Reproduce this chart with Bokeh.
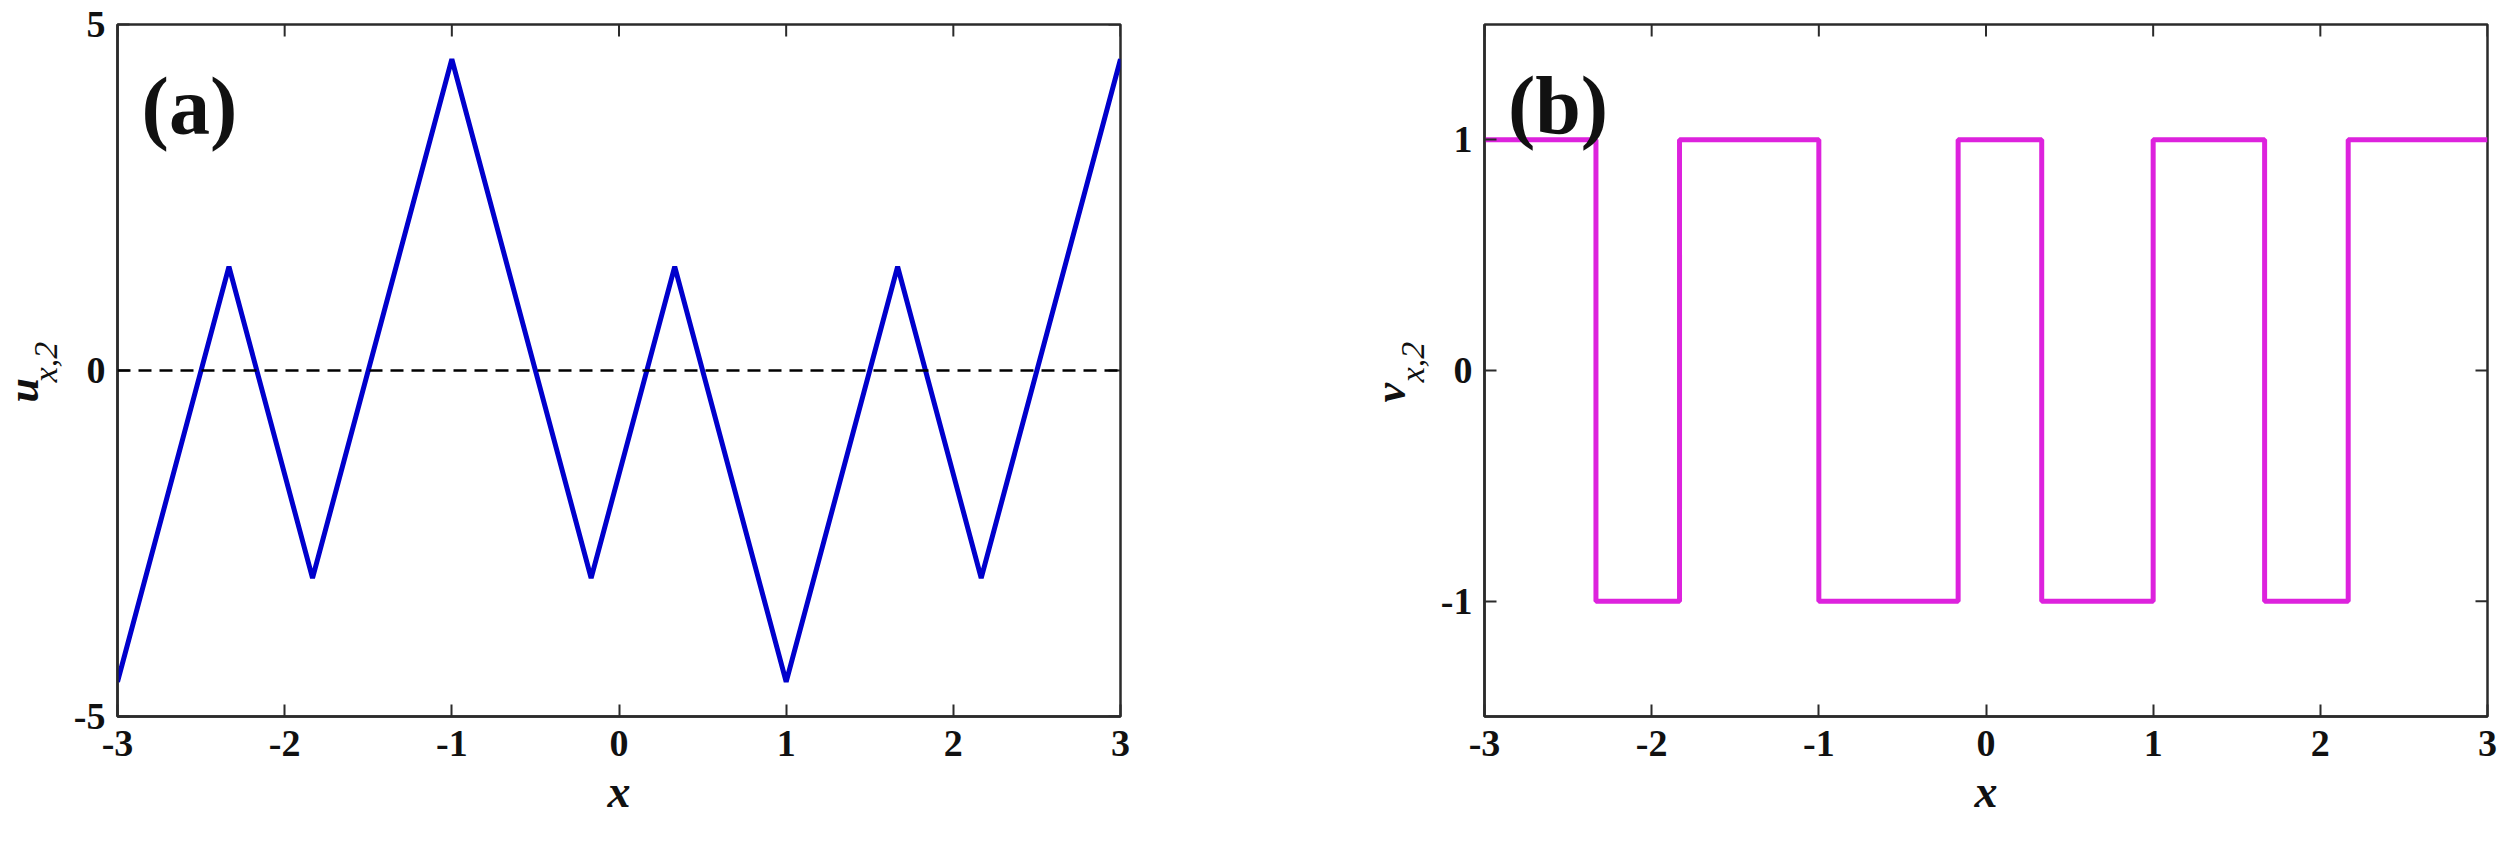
import math
from bokeh.plotting import figure
from bokeh.layouts import row
from bokeh.models import Title, FixedTicker, Range1d, Span, Label
from bokeh.embed import file_html
from bokeh.resources import INLINE

# ---------------- data ----------------
x_ticks = [-3, -2, -1, 0, 1, 2, 3]
x_lim = [-3, 3]
u_lim = [-5, 5]
v_lim = [-1.5, 1.5]
u_y_ticks = [-5, 0, 5]
v_y_ticks = [-1, 0, 1]

u_x = [-3.0, -2.3333, -1.8333, -1.0, -0.1667, 0.3333, 1.0, 1.6667, 2.1667, 3.0]
u_vals = [-4.5, 1.5, -3.0, 4.5, -3.0, 1.5, -4.5, 1.5, -3.0, 4.5]

v_x = [-3.0, -2.3333, -1.8333, -1.0, -0.1667, 0.3333, 1.0, 1.6667, 2.1667, 3.0]
v_vals = [1, -1, 1, -1, 1, -1, 1, -1, 1, 1]

FONT = "Liberation Serif"
AX_COL = "#2b2b2b"
TXT = "#111111"
FW, FH = 1003, 692


def style_axis(ax, ticks):
    ax.ticker = FixedTicker(ticks=ticks)
    ax.major_label_overrides = {t: str(t) for t in ticks}
    ax.axis_line_color = AX_COL
    ax.axis_line_width = 2.5
    ax.major_tick_line_color = AX_COL
    ax.major_tick_line_width = 2
    ax.major_tick_in = 12
    ax.major_tick_out = 0
    ax.minor_tick_line_color = None
    ax.major_label_text_font = FONT
    ax.major_label_text_font_style = "bold"
    ax.major_label_text_font_size = "38px"
    ax.major_label_text_color = TXT


def make_fig(ylim, yticks, bl, br, sym):
    p = figure(output_backend="svg", toolbar_location=None,
               frame_width=FW, frame_height=FH,
               x_range=Range1d(*x_lim), y_range=Range1d(*ylim),
               min_border_left=bl, min_border_right=br,
               min_border_top=24, min_border_bottom=117)
    p.grid.visible = False
    p.outline_line_color = AX_COL
    p.outline_line_width = 2.5
    p.background_fill_color = "white"
    p.border_fill_color = "white"

    xa = p.xaxis[0]
    ya = p.yaxis[0]
    style_axis(xa, x_ticks)
    style_axis(ya, yticks)
    xa.major_label_standoff = 14
    ya.major_label_standoff = 12

    xa.axis_label = "x"
    xa.axis_label_text_font = FONT
    xa.axis_label_text_font_style = "bold italic"
    xa.axis_label_text_font_size = "46px"
    xa.axis_label_text_color = TXT
    xa.axis_label_standoff = 7

    # subscript of the y label (closer to the axis)
    ya.axis_label = "\u00a0\u00a0x,2"
    ya.axis_label_text_font = FONT
    ya.axis_label_text_font_style = "italic"
    ya.axis_label_text_font_size = "34px"
    ya.axis_label_text_color = TXT
    ya.axis_label_standoff = 7

    # main symbol of the y label
    p.add_layout(Title(text=sym, align="left", offset=314,
                       vertical_align="bottom", standoff=-48,
                       text_font=FONT, text_font_style="bold italic",
                       text_font_size="44px", text_color=TXT), "left")

    # mirror ticks on top and right edges of the box
    p.ray(x=x_ticks, y=[ylim[1]] * len(x_ticks), length=12,
          length_units="screen", angle=-math.pi / 2,
          line_color=AX_COL, line_width=2)
    p.ray(x=[x_lim[1]] * len(yticks), y=yticks, length=12,
          length_units="screen", angle=math.pi,
          line_color=AX_COL, line_width=2)
    return p


def tag(p, x, y, text):
    p.add_layout(Label(x=x, y=y, text=text, text_font=FONT,
                       text_font_size="82px", text_font_style="bold",
                       text_color=TXT, text_baseline="alphabetic"))


# ---------------- panel (a) ----------------
pa = make_fig(u_lim, u_y_ticks, 117, 172, "u")
pa.add_layout(Span(location=0, dimension="width", line_color="black",
                   line_width=2.5, line_dash="13 8"))
pa.line(u_x, u_vals, line_color="#0000cc", line_width=5)
tag(pa, -2.856, 3.82, "(a)")

# ---------------- panel (b) ----------------
pb = make_fig(v_lim, v_y_ticks, 192, 10, "v")
pb.step(v_x, v_vals, mode="after", line_color="#dd22dd", line_width=5)
tag(pb, -2.86, 1.147, "(b)")

layout = row(pa, pb)
open("out.html", "w").write(file_html(layout, INLINE))
